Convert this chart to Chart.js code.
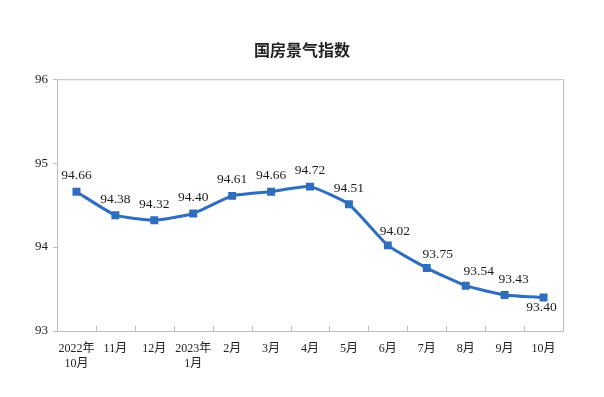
<!DOCTYPE html>
<html lang="zh">
<head>
  <meta charset="utf-8">
  <title>国房景气指数</title>
  <script src="https://cdn.jsdelivr.net/npm/chart.js"></script>
  <style>
    html, body { margin: 0; padding: 0; background: #fff; }
    #wrap { width: 604px; height: 397px; }
  </style>
</head>
<body>
<div id="wrap"><canvas id="c"></canvas></div>
<script>
const months = [['2022年','10月'], '11月', '12月', ['2023年','1月'], '2月', '3月', '4月', '5月', '6月', '7月', '8月', '9月', '10月'];
const indexValues = [94.66, 94.38, 94.32, 94.40, 94.61, 94.66, 94.72, 94.51, 94.02, 93.75, 93.54, 93.43, 93.40];
const yTicks = [93, 94, 95, 96];

// label placement: dx, dy relative to the point
const labelShift = [[0,-16],[0,-16],[0,-16],[0,-16],[0,-16],[0,-16],[0,-16],[0,-16],[7,-14],[11,-14],[13,-14],[9,-15],[-2,10]];

const serif = "'Liberation Serif', 'Noto Sans CJK SC', serif";
const blue = '#2F6EBF';
const gray = '#BDBDBD';

// box around plot + inward ticks on x axis + value labels
const extras = {
  id: 'extras',
  afterDraw(chart) {
    const { ctx, chartArea: a } = chart;
    ctx.save();
    ctx.strokeStyle = gray;
    ctx.lineWidth = 1;
    ctx.strokeRect(a.left + 0.5, a.top + 0.5, a.right - a.left, a.bottom - a.top);
    const step = (a.right - a.left) / months.length;
    ctx.beginPath();
    for (let i = 1; i < months.length; i++) {
      const px = Math.round(a.left + i * step) + 0.5;
      ctx.moveTo(px, a.bottom);
      ctx.lineTo(px, a.bottom - 5);
    }
    ctx.stroke();

    const meta = chart.getDatasetMeta(0);
    ctx.fillStyle = '#1a1a1a';
    ctx.font = '13.5px ' + serif;
    ctx.textAlign = 'center';
    ctx.textBaseline = 'middle';
    meta.data.forEach((pt, i) => {
      const s = labelShift[i];
      ctx.fillText(indexValues[i].toFixed(2), pt.x + s[0], pt.y + s[1]);
    });
    ctx.restore();
  }
};

new Chart(document.getElementById('c'), {
  type: 'line',
  data: {
    labels: months,
    datasets: [{
      data: indexValues,
      borderColor: blue,
      backgroundColor: blue,
      borderWidth: 3,
      pointStyle: 'rect',
      pointRadius: 3.5,
      pointHoverRadius: 3.5,
      tension: 0.15
    }]
  },
  options: {
    animation: false,
    responsive: true,
    maintainAspectRatio: false,
    layout: { padding: 0 },
    plugins: {
      legend: { display: false },
      tooltip: { enabled: false },
      title: {
        display: true,
        text: '国房景气指数',
        color: '#222',
        font: { family: "'Noto Sans CJK SC', sans-serif", size: 16, weight: 'bold' },
        padding: { top: 40, bottom: 20 }
      }
    },
    scales: {
      x: {
        offset: true,
        grid: { display: false, offset: true },
        border: { display: false },
        ticks: {
          color: '#222',
          font: { family: serif, size: 12 },
          padding: 3,
          maxRotation: 0,
          autoSkip: false
        },
        afterFit(s) { s.height = 66; }
      },
      y: {
        min: 93,
        max: 96,
        afterBuildTicks(s) { s.ticks = yTicks.map(v => ({ value: v })); },
        grid: { drawOnChartArea: false, drawTicks: true, tickLength: 4, color: gray },
        border: { display: false },
        ticks: {
          color: '#222',
          font: { family: serif, size: 13 },
          padding: 5
        },
        afterFit(s) { s.width = 57; }
      },
      spacer: {
        position: 'right',
        display: true,
        grid: { display: false },
        border: { display: false },
        ticks: { display: false },
        afterFit(s) { s.width = 41; }
      }
    }
  },
  plugins: [extras]
});
</script>
</body>
</html>
